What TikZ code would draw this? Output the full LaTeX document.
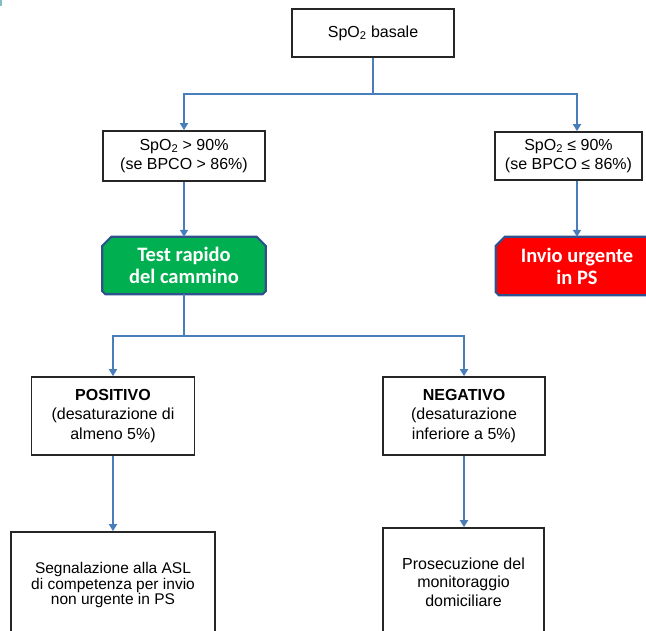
\documentclass[tikz,border=0pt]{standalone}
\usepackage{fontspec}
\setmainfont{Liberation Sans}
\newfontfamily\calibri{Carlito}
\usetikzlibrary{arrows.meta,backgrounds}

\definecolor{blufreccia}{RGB}{74,126,187}
\definecolor{bordoblu}{RGB}{47,82,143}
\definecolor{verdetest}{RGB}{0,176,80}
\definecolor{rossoinvio}{RGB}{255,0,0}

\tikzset{
	casella/.style={draw=black!85,line width=1.7pt,fill=white,align=center,inner sep=2pt,font=\fontsize{16}{19.5}\selectfont},
	esito/.style={align=center,text=white,inner sep=2pt,font=\calibri\bfseries\fontsize{20.5}{22}\selectfont},
	freccia/.style={draw=blufreccia,line width=1.7pt,-{Triangle[width=8pt,length=7pt]}},
	linea/.style={draw=blufreccia,line width=1.7pt}
}

\newcommand{\smussato}[2]{%
	\draw [draw=bordoblu,line width=2.2pt,fill=#2]
		([xshift=9pt]#1.north west) -- ([xshift=-9pt]#1.north east) -- ([yshift=-9pt]#1.north east)
		-- ([yshift=3pt]#1.south east) -- ([xshift=-3pt]#1.south east) -- ([xshift=3pt]#1.south west)
		-- ([yshift=3pt]#1.south west) -- ([yshift=-9pt]#1.north west) -- cycle;}

\begin{document}
\begin{tikzpicture}[x=1pt,y=-1pt]

		\useasboundingbox (0,0) rectangle (646,630);
		\fill [teal!50] (0,0) rectangle (1.5,6);

		\node [casella,minimum width=162pt,minimum height=48pt] (basale) at (373,33) {SpO\textsubscript{2} basale};
		\node [casella,minimum width=162pt,minimum height=50pt] (alta) at (184,156) {SpO\textsubscript{2} > 90\%\\(se BPCO > 86\%)};
		\node [casella,minimum width=147pt,minimum height=48pt] (bassa) at (568.5,156) {SpO\textsubscript{2} ≤ 90\%\\(se BPCO ≤ 86\%)};

		\node [esito,minimum width=163pt,minimum height=57pt] (test) at (184,265.5) {Test rapido\\del cammino};
		\node [esito,minimum width=162pt,minimum height=58pt] (invio) at (577,266) {Invio urgente\\in PS};

		\node [casella,minimum width=163pt,minimum height=78pt] (pos) at (113,416) {\textbf{POSITIVO}\\(desaturazione di\\almeno 5\%)};
		\node [casella,minimum width=162pt,minimum height=78pt] (neg) at (464,416) {\textbf{NEGATIVO}\\(desaturazione\\inferiore a 5\%)};

		\node [casella,minimum width=204pt,minimum height=106pt,font=\fontsize{15.5}{15.5}\selectfont] (segn) at (113,585) {Segnalazione alla ASL\\di competenza per invio\\non urgente in PS};
		\node [casella,minimum width=161pt,minimum height=108pt,font=\fontsize{16}{18.5}\selectfont] (pros) at (463.5,582) {Prosecuzione del\\monitoraggio\\domiciliare};

		\begin{pgfonlayer}{background}
			\smussato{test}{verdetest}
			\smussato{invio}{rossoinvio}
		\end{pgfonlayer}

		\coordinate (snodo1) at (basale.south |- 0,94);
		\coordinate (snodo2) at (test.south |- 0,336);

		\draw [linea] (basale.south) -- (snodo1);
		\draw [freccia] (snodo1) -| (alta.north);
		\draw [freccia] (snodo1) -| (bassa.north -| invio.north);
		\draw [freccia] (alta.south) -- (test.north);
		\draw [freccia] (bassa.south -| invio.north) -- (invio.north);

		\draw [linea] (test.south) -- (snodo2);
		\draw [freccia] (snodo2) -| (pos.north);
		\draw [freccia] (snodo2) -| (neg.north);
		\draw [freccia] (pos.south) -- (pos.south |- segn.north);
		\draw [freccia] (neg.south) -- (neg.south |- pros.north);

\end{tikzpicture}
\end{document}
